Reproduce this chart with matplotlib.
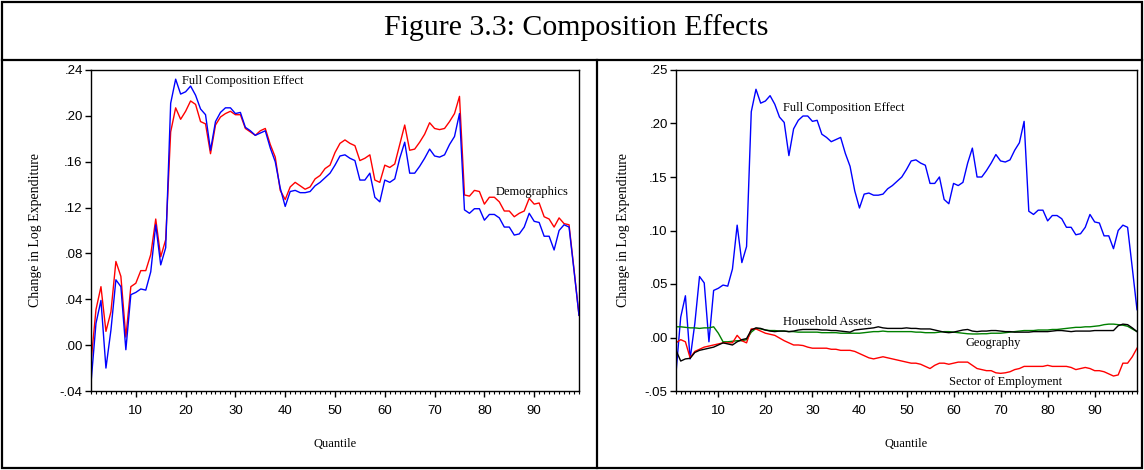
import matplotlib
matplotlib.use("Agg")
import matplotlib.pyplot as plt
from matplotlib.ticker import MultipleLocator, FuncFormatter, FixedLocator
from matplotlib.lines import Line2D
from matplotlib.patches import Rectangle
import numpy as np

quantiles = list(range(1, 100))

full_composition = [
    -0.033, 0.019, 0.039, -0.020, 0.013, 0.057, 0.051, -0.004, 0.044, 0.046,
    0.049, 0.048, 0.064, 0.105, 0.070, 0.085, 0.211, 0.232, 0.219, 0.221,
    0.226, 0.218, 0.206, 0.201, 0.170, 0.195, 0.203, 0.207, 0.207, 0.202,
    0.203, 0.190, 0.187, 0.183, 0.185, 0.187, 0.172, 0.160, 0.137, 0.121,
    0.134, 0.135, 0.133, 0.133, 0.134, 0.139, 0.142, 0.146, 0.150, 0.157,
    0.165, 0.166, 0.163, 0.161, 0.144, 0.144, 0.150, 0.129, 0.125, 0.144,
    0.142, 0.145, 0.163, 0.177, 0.150, 0.150, 0.156, 0.163, 0.171, 0.165,
    0.164, 0.166, 0.175, 0.182, 0.202, 0.118, 0.115, 0.119, 0.119, 0.109,
    0.114, 0.114, 0.111, 0.103, 0.103, 0.096, 0.097, 0.103, 0.115, 0.108,
    0.107, 0.095, 0.095, 0.083, 0.100, 0.105, 0.103, 0.065, 0.026,
]

demographics = [
    -0.015, 0.031, 0.051, 0.012, 0.029, 0.073, 0.060, 0.007, 0.051, 0.054,
    0.065, 0.065, 0.079, 0.110, 0.077, 0.092, 0.186, 0.207, 0.197, 0.204,
    0.213, 0.210, 0.195, 0.193, 0.167, 0.192, 0.199, 0.202, 0.204, 0.201,
    0.201, 0.189, 0.186, 0.183, 0.187, 0.189, 0.175, 0.164, 0.135, 0.127,
    0.138, 0.142, 0.139, 0.136, 0.138, 0.145, 0.148, 0.154, 0.157, 0.168,
    0.176, 0.179, 0.176, 0.174, 0.161, 0.163, 0.166, 0.144, 0.142, 0.157,
    0.155, 0.158, 0.175, 0.192, 0.170, 0.171, 0.177, 0.184, 0.194, 0.189,
    0.188, 0.189, 0.195, 0.202, 0.217, 0.131, 0.130, 0.135, 0.134, 0.123,
    0.129, 0.129, 0.125, 0.117, 0.117, 0.112, 0.115, 0.117, 0.128, 0.123,
    0.124, 0.112, 0.110, 0.103, 0.111, 0.106, 0.105, 0.066, 0.026,
]

household_assets = [
    -0.012, -0.022, -0.020, -0.0195, -0.014, -0.012, -0.011, -0.010, -0.009, -0.007,
    -0.005, -0.006, -0.007, -0.004, -0.002, -0.001, 0.007, 0.009, 0.0085, 0.007,
    0.006, 0.0055, 0.006, 0.006, 0.0055, 0.006, 0.007, 0.0075, 0.0075, 0.0075,
    0.0075, 0.007, 0.007, 0.0065, 0.0065, 0.006, 0.0055, 0.005, 0.007, 0.0075,
    0.008, 0.0085, 0.009, 0.010, 0.009, 0.0085, 0.0085, 0.0085, 0.0085, 0.009,
    0.0085, 0.0085, 0.008, 0.008, 0.008, 0.007, 0.006, 0.005, 0.0045, 0.005,
    0.006, 0.007, 0.0075, 0.006, 0.0055, 0.006, 0.006, 0.0065, 0.0065, 0.006,
    0.0055, 0.0055, 0.005, 0.005, 0.005, 0.005, 0.0055, 0.0055, 0.0055, 0.0055,
    0.006, 0.0065, 0.0065, 0.006, 0.0055, 0.006, 0.006, 0.006, 0.006, 0.0065,
    0.0065, 0.0065, 0.0065, 0.0065, 0.011, 0.0125, 0.012, 0.009, 0.0055,
]

geography = [
    0.010, 0.010, 0.0095, 0.009, 0.009, 0.0085, 0.009, 0.009, 0.010, 0.004,
    -0.004, -0.004, -0.0035, -0.003, -0.003, -0.002, 0.005, 0.0085, 0.008, 0.007,
    0.0065, 0.0065, 0.006, 0.006, 0.0055, 0.0055, 0.005, 0.005, 0.005, 0.005,
    0.005, 0.0045, 0.0045, 0.0045, 0.0045, 0.004, 0.004, 0.004, 0.004, 0.004,
    0.0045, 0.005, 0.0055, 0.0055, 0.006, 0.0055, 0.0055, 0.0055, 0.0055, 0.0055,
    0.0055, 0.005, 0.005, 0.0045, 0.0045, 0.0045, 0.005, 0.0055, 0.0055, 0.005,
    0.0045, 0.004, 0.0035, 0.0033, 0.0033, 0.0035, 0.0035, 0.004, 0.004, 0.004,
    0.0045, 0.005, 0.0055, 0.006, 0.0065, 0.0065, 0.0065, 0.007, 0.007, 0.007,
    0.0075, 0.0075, 0.008, 0.0085, 0.009, 0.0095, 0.0095, 0.010, 0.010, 0.0105,
    0.011, 0.012, 0.0125, 0.0125, 0.012, 0.0115, 0.0105, 0.008, 0.0055,
]

sector_of_employment = [
    -0.005, -0.002, -0.004, -0.019, -0.013, -0.011, -0.009, -0.008, -0.007, -0.006,
    -0.005, -0.005, -0.005, 0.002, -0.003, -0.005, 0.008, 0.008, 0.006, 0.004,
    0.003, 0.002, -0.0005, -0.003, -0.005, -0.007, -0.007, -0.0075, -0.009, -0.010,
    -0.010, -0.010, -0.010, -0.011, -0.011, -0.012, -0.012, -0.012, -0.013, -0.015,
    -0.017, -0.019, -0.020, -0.019, -0.018, -0.019, -0.020, -0.021, -0.022, -0.023,
    -0.024, -0.024, -0.025, -0.027, -0.029, -0.026, -0.024, -0.024, -0.025, -0.024,
    -0.023, -0.023, -0.023, -0.026, -0.029, -0.030, -0.031, -0.031, -0.033, -0.0335,
    -0.033, -0.032, -0.030, -0.029, -0.027, -0.027, -0.027, -0.027, -0.027, -0.026,
    -0.027, -0.027, -0.027, -0.027, -0.028, -0.030, -0.029, -0.028, -0.029, -0.031,
    -0.031, -0.032, -0.034, -0.036, -0.035, -0.024, -0.024, -0.018, -0.010,
]

title = "Figure 3.3: Composition Effects"
y_label = "Change in Log Expenditure"
x_label = "Quantile"

SERIF = ["Liberation Serif", "DejaVu Serif"]
SANS = ["Liberation Sans", "DejaVu Sans"]

W, H = 1144, 470
fig = plt.figure(figsize=(W / 100, H / 100), dpi=100)
fig.patch.set_facecolor("white")


def fx(px):
    return px / W


def fy(py):
    return 1 - py / H


def tick_fmt(v, pos):
    s = "%.2f" % v
    if s.startswith("0."):
        s = s[1:]
    elif s.startswith("-0."):
        s = "-" + s[2:]
    return s


def style_axes(ax, ylo, yhi, ystep):
    ax.set_xlim(1, 99)
    ax.set_ylim(ylo, yhi)
    ax.xaxis.set_major_locator(FixedLocator(list(range(10, 100, 10))))
    ax.xaxis.set_minor_locator(MultipleLocator(1))
    ax.yaxis.set_major_locator(MultipleLocator(ystep))
    ax.yaxis.set_major_formatter(FuncFormatter(tick_fmt))
    ax.tick_params(axis="both", which="major", direction="out", length=4,
                   width=1, labelsize=9.5, pad=2, colors="black")
    ax.tick_params(axis="x", which="minor", direction="out", length=2.5, width=0.8)
    ax.tick_params(axis="x", which="major", pad=6)
    for lab in ax.get_xticklabels() + ax.get_yticklabels():
        lab.set_fontfamily(SANS)
    for sp in ax.spines.values():
        sp.set_linewidth(1.0)
        sp.set_color("black")


# Left panel
axL = fig.add_axes([fx(91), fy(391), fx(579 - 91), (391 - 70) / H])
axL.plot(quantiles, demographics, color="#FF0000", lw=1.0)
axL.plot(quantiles, full_composition, color="#0000FF", lw=1.0)
style_axes(axL, -0.04, 0.24, 0.04)
axL.text(19.2, 0.2305, "Full Composition Effect", family=SERIF, fontsize=9,
         ha="left", va="center")
axL.text(82.3, 0.1335, "Demographics", family=SERIF, fontsize=9,
         ha="left", va="center")

# Right panel
axR = fig.add_axes([fx(676), fy(391), fx(1137 - 676), (391 - 70) / H])
axR.plot(quantiles, full_composition, color="#0000FF", lw=1.0)
axR.plot(quantiles, geography, color="#008000", lw=1.0)
axR.plot(quantiles, sector_of_employment, color="#FF0000", lw=1.0)
axR.plot(quantiles, household_assets, color="black", lw=1.0)
style_axes(axR, -0.05, 0.25, 0.05)
axR.text(23.8, 0.2145, "Full Composition Effect", family=SERIF, fontsize=9,
         ha="left", va="center")
axR.text(23.8, 0.0145, "Household Assets", family=SERIF, fontsize=9,
         ha="left", va="center")
axR.text(62.6, -0.0055, "Geography", family=SERIF, fontsize=9,
         ha="left", va="center")
axR.text(59.0, -0.0415, "Sector of Employment", family=SERIF, fontsize=9,
         ha="left", va="center")

# Axis labels placed in figure coordinates
fig.text(fx(36), fy(230), y_label, rotation=90, family=SERIF, fontsize=10,
         ha="center", va="center")
fig.text(fx(623), fy(230), y_label, rotation=90, family=SERIF, fontsize=10,
         ha="center", va="center")
fig.text(fx(335), fy(444), x_label, family=SERIF, fontsize=9,
         ha="center", va="center")
fig.text(fx(906), fy(444), x_label, family=SERIF, fontsize=9,
         ha="center", va="center")

# Title
fig.text(fx(576), fy(28), title, family=SERIF, fontsize=21.5,
         ha="center", va="center")

# Frame lines
fig.add_artist(Rectangle((fx(2), fy(468)), fx(1140), (466) / H, fill=False,
                         lw=1.6, edgecolor="black", transform=fig.transFigure))
fig.add_artist(Line2D([fx(2), fx(1142)], [fy(60), fy(60)], lw=1.6,
                      color="black", transform=fig.transFigure))
fig.add_artist(Line2D([fx(597), fx(597)], [fy(60), fy(468)], lw=1.6,
                      color="black", transform=fig.transFigure))

fig.savefig("out.png", dpi=100, facecolor="white")
